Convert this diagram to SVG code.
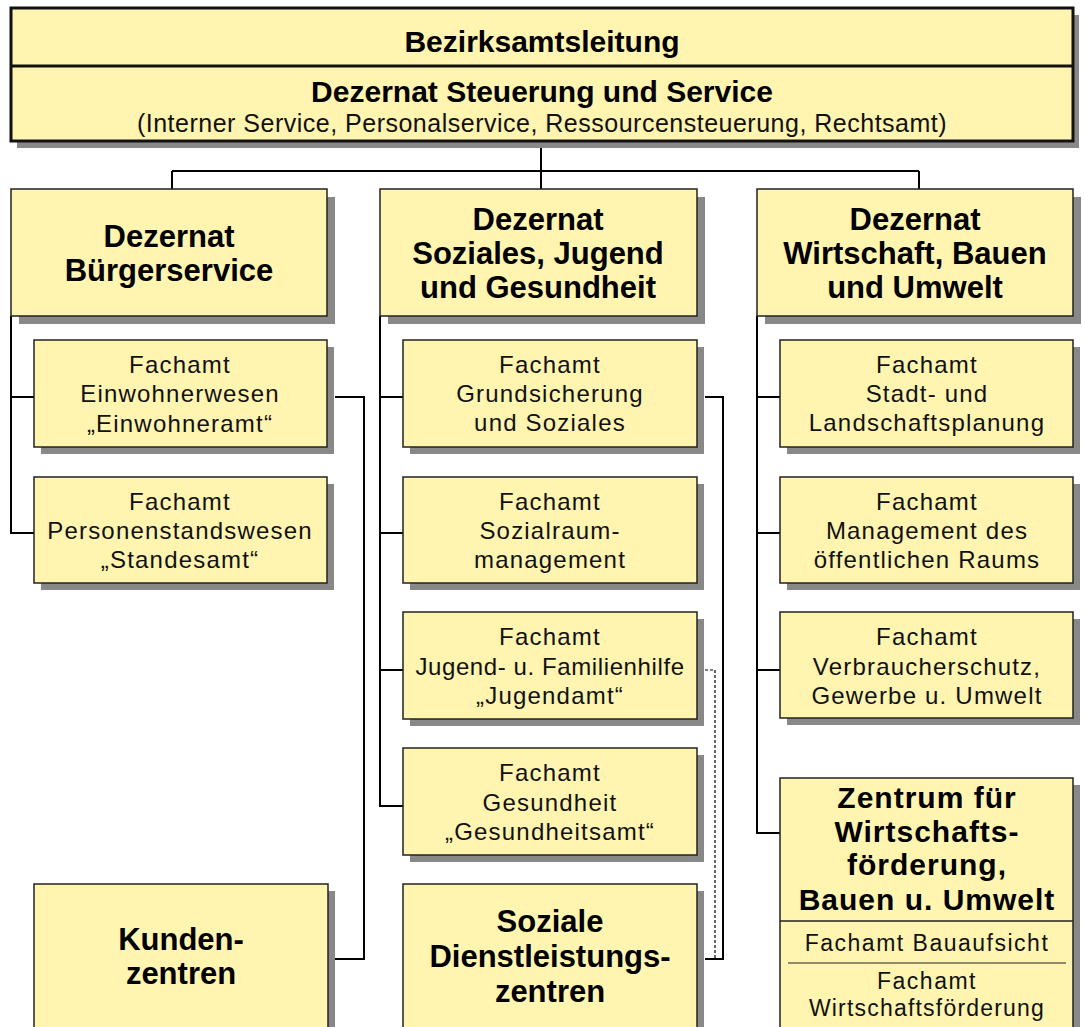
<svg xmlns="http://www.w3.org/2000/svg" width="1085" height="1027" viewBox="0 0 1085 1027">
<style>
.box{fill:#FFF4B0;stroke:#222;stroke-width:1.5}
.sh{fill:#888}
.t{font-family:"Liberation Sans",Arial,sans-serif;font-size:24px;fill:#111;text-anchor:middle;letter-spacing:1.2px}
.b{font-family:"Liberation Sans",Arial,sans-serif;font-weight:bold;font-size:31px;fill:#000;text-anchor:middle}
.c{fill:none;stroke:#000;stroke-width:2}
.d{fill:none;stroke:#000;stroke-width:1.2;stroke-dasharray:3 2}
</style>
<rect width="1085" height="1027" fill="#fff"/>
<g id="connectors">
<path class="c" d="M541 141V189M172 171H919M172 171V189M919 171V189"/>
<path class="c" d="M11 316V533H34M11 397H34"/>
<path class="c" d="M335 397H364V959H335"/>
<path class="c" d="M380 316V806H403M380 397H403M380 533H403M380 670H403"/>
<path class="c" d="M705 397H723V959H705"/>
<path class="d" d="M705 670H715V959"/>
<path class="c" d="M757 316V833H780M757 397H780M757 533H780M757 670H780"/>
</g>
<g id="top">
<rect class="sh" x="17" y="15" width="1062" height="133"/>
<rect x="11" y="8" width="1062" height="133" fill="#FFF4B0" stroke="#111" stroke-width="3"/>
<line x1="11" y1="66" x2="1073" y2="66" stroke="#111" stroke-width="3"/>
<text class="b" x="542" y="52" style="font-size:30px">Bezirksamtsleitung</text>
<text class="b" x="542" y="102" style="font-size:30px">Dezernat Steuerung und Service</text>
<text class="t" x="542" y="132" style="font-size:25px;letter-spacing:0.5px">(Interner Service, Personalservice, Ressourcensteuerung, Rechtsamt)</text>
</g>
<g id="d1">
<rect class="sh" x="19" y="197" width="316" height="127"/>
<rect class="box" x="11" y="189" width="316" height="127"/>
<text class="b" x="169" y="247">Dezernat</text>
<text class="b" x="169" y="281">Bürgerservice</text>
</g>
<g id="d2">
<rect class="sh" x="388" y="197" width="317" height="127"/>
<rect class="box" x="380" y="189" width="317" height="127"/>
<text class="b" x="538" y="230">Dezernat</text>
<text class="b" x="538" y="264">Soziales, Jugend</text>
<text class="b" x="538" y="298">und Gesundheit</text>
</g>
<g id="d3">
<rect class="sh" x="765" y="197" width="316" height="127"/>
<rect class="box" x="757" y="189" width="316" height="127"/>
<text class="b" x="915" y="230">Dezernat</text>
<text class="b" x="915" y="264">Wirtschaft, Bauen</text>
<text class="b" x="915" y="298">und Umwelt</text>
</g>
<g id="f-einwohner">
<rect class="sh" x="41" y="347" width="293" height="107"/>
<rect class="box" x="34" y="340" width="293" height="107"/>
<text class="t" x="180" y="373">Fachamt</text>
<text class="t" x="180" y="402">Einwohnerwesen</text>
<text class="t" x="180" y="432">„Einwohneramt“</text>
</g>
<g id="f-standes">
<rect class="sh" x="41" y="484" width="293" height="106"/>
<rect class="box" x="34" y="477" width="293" height="106"/>
<text class="t" x="180" y="510">Fachamt</text>
<text class="t" x="180" y="539">Personenstandswesen</text>
<text class="t" x="180" y="568">„Standesamt“</text>
</g>
<g id="kunden">
<rect class="sh" x="41" y="891" width="294" height="150"/>
<rect class="box" x="34" y="884" width="294" height="150"/>
<text class="b" x="181" y="950">Kunden-</text>
<text class="b" x="181" y="984">zentren</text>
</g>
<g id="f-grund">
<rect class="sh" x="410" y="347" width="294" height="107"/>
<rect class="box" x="403" y="340" width="294" height="107"/>
<text class="t" x="550" y="373">Fachamt</text>
<text class="t" x="550" y="402">Grundsicherung</text>
<text class="t" x="550" y="431">und Soziales</text>
</g>
<g id="f-sozialraum">
<rect class="sh" x="410" y="484" width="294" height="106"/>
<rect class="box" x="403" y="477" width="294" height="106"/>
<text class="t" x="550" y="510">Fachamt</text>
<text class="t" x="550" y="539">Sozialraum-</text>
<text class="t" x="550" y="568">management</text>
</g>
<g id="f-jugend">
<rect class="sh" x="410" y="619" width="294" height="107"/>
<rect class="box" x="403" y="612" width="294" height="107"/>
<text class="t" x="550" y="645">Fachamt</text>
<text class="t" x="550" y="675" style="letter-spacing:0.6px">Jugend- u. Familienhilfe</text>
<text class="t" x="550" y="704">„Jugendamt“</text>
</g>
<g id="f-gesund">
<rect class="sh" x="410" y="755" width="294" height="107"/>
<rect class="box" x="403" y="748" width="294" height="107"/>
<text class="t" x="550" y="781">Fachamt</text>
<text class="t" x="550" y="811">Gesundheit</text>
<text class="t" x="550" y="840">„Gesundheitsamt“</text>
</g>
<g id="soziale">
<rect class="sh" x="410" y="891" width="294" height="150"/>
<rect class="box" x="403" y="884" width="294" height="150"/>
<text class="b" x="550" y="932">Soziale</text>
<text class="b" x="550" y="967">Dienstleistungs-</text>
<text class="b" x="550" y="1002">zentren</text>
</g>
<g id="f-stadt">
<rect class="sh" x="787" y="347" width="293" height="107"/>
<rect class="box" x="780" y="340" width="293" height="107"/>
<text class="t" x="927" y="373">Fachamt</text>
<text class="t" x="927" y="402">Stadt- und</text>
<text class="t" x="927" y="431">Landschaftsplanung</text>
</g>
<g id="f-management">
<rect class="sh" x="787" y="484" width="293" height="106"/>
<rect class="box" x="780" y="477" width="293" height="106"/>
<text class="t" x="927" y="510">Fachamt</text>
<text class="t" x="927" y="539">Management des</text>
<text class="t" x="927" y="568">öffentlichen Raums</text>
</g>
<g id="f-verbraucher">
<rect class="sh" x="787" y="619" width="293" height="106"/>
<rect class="box" x="780" y="612" width="293" height="106"/>
<text class="t" x="927" y="645">Fachamt</text>
<text class="t" x="927" y="675">Verbraucherschutz,</text>
<text class="t" x="927" y="704">Gewerbe u. Umwelt</text>
</g>
<g id="zentrum">
<rect class="sh" x="787" y="785" width="293" height="260"/>
<rect class="box" x="780" y="778" width="293" height="260"/>
<line x1="780" y1="921" x2="1073" y2="921" stroke="#222" stroke-width="1.5"/>
<line x1="788" y1="963" x2="1066" y2="963" stroke="#222" stroke-width="1.2"/>
<text class="b" x="927" y="808" style="font-size:30px;letter-spacing:1px">Zentrum für</text>
<text class="b" x="927" y="842" style="font-size:30px;letter-spacing:1px">Wirtschafts-</text>
<text class="b" x="927" y="875" style="font-size:30px;letter-spacing:1px">förderung,</text>
<text class="b" x="927" y="910" style="font-size:30px;letter-spacing:1px">Bauen u. Umwelt</text>
<text class="t" x="927" y="951" style="font-size:23px;letter-spacing:1.5px">Fachamt Bauaufsicht</text>
<text class="t" x="927" y="989" style="font-size:23px;letter-spacing:1.5px">Fachamt</text>
<text class="t" x="927" y="1016" style="font-size:23px;letter-spacing:1.2px">Wirtschaftsförderung</text>
</g>
</svg>
